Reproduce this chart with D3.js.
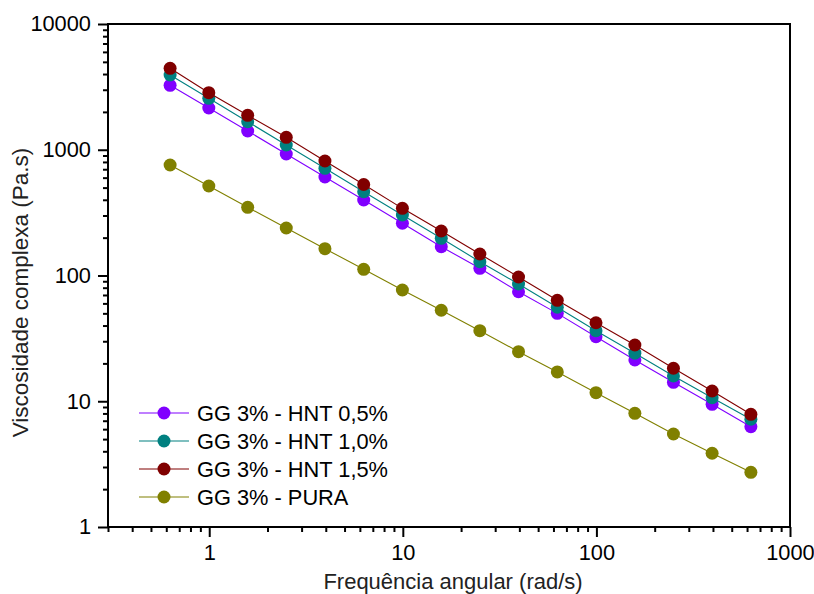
<!DOCTYPE html>
<html>
<head>
<meta charset="utf-8">
<script src="https://cdn.jsdelivr.net/npm/d3@7"></script>
<style>
  html, body { margin: 0; padding: 0; background: #fff; }
  svg { display: block; font-family: "Liberation Sans", Arial, sans-serif; }
</style>
</head>
<body>
<svg id="chart" width="814" height="594"></svg>
<script>
// Angular frequency sweep (rad/s)
const frequency = [0.628, 0.995, 1.58, 2.5, 3.96, 6.28, 9.95, 15.8, 25.0, 39.6, 62.8, 99.5, 158, 250, 396, 628];

// Complex viscosity (Pa.s) for each formulation
const hnt05 = [3254, 2148, 1410, 925, 607, 398.5, 260.2, 169.4, 114.1, 74.3, 50.0, 32.6, 21.3, 14.15, 9.46, 6.28];
const hnt10 = [3930, 2566, 1672, 1091, 712, 464, 302.8, 197.6, 128.8, 85.6, 55.9, 36.4, 24.1, 15.9, 10.67, 7.19];
const hnt15 = [4443, 2843, 1879, 1256, 814, 529, 342, 225.9, 148.3, 97.3, 63.5, 42.1, 28.0, 18.3, 12.06, 7.87];
const pura  = [756, 515, 348.6, 238.6, 163.4, 112.0, 76.7, 52.9, 36.4, 24.8, 17.1, 11.7, 8.02, 5.49, 3.86, 2.72];

const seriesNames  = ["GG 3% - HNT 0,5%", "GG 3% - HNT 1,0%", "GG 3% - HNT 1,5%", "GG 3% - PURA"];
const seriesColors = ["#8000ff", "#008080", "#800000", "#808000"];
const seriesValues = [hnt05, hnt10, hnt15, pura];

const xTickValues = [1, 10, 100, 1000];
const yTickValues = [1, 10, 100, 1000, 10000];
const xTitle = "Frequência angular (rad/s)";
const yTitle = "Viscosidade complexa (Pa.s)";

const svg = d3.select("#chart");
const plot = { left: 108, right: 790, top: 24, bottom: 527 };

const x = d3.scaleLog().domain([0.3, 1000]).range([plot.left, plot.right]);
const y = d3.scaleLog().domain([1, 10000]).range([plot.bottom, plot.top]);

// minor ticks at 2..9 of every decade inside the domain
function minorTicks(scale) {
  const [a, b] = scale.domain();
  const out = [];
  for (let e = Math.floor(Math.log10(a)); e <= Math.ceil(Math.log10(b)); e++) {
    for (let m = 2; m <= 9; m++) {
      const v = m * Math.pow(10, e);
      if (v >= a && v <= b) out.push(v);
    }
  }
  return out;
}

const fontSize = 21.8;

// x axis
const xAxis = svg.append("g").attr("transform", `translate(0,${plot.bottom})`);
xAxis.call(d3.axisBottom(x).tickValues(xTickValues).tickFormat(d3.format("d")).tickSize(10).tickSizeOuter(0))
  .call(g => g.select(".domain").remove());
xAxis.append("g").call(d3.axisBottom(x).tickValues(minorTicks(x)).tickFormat("").tickSize(5).tickSizeOuter(0))
  .call(g => g.select(".domain").remove());
xAxis.selectAll("line").attr("stroke", "#000").attr("stroke-width", 2);
xAxis.selectAll("text").attr("font-size", fontSize).attr("fill", "#000")
  .attr("font-family", "Liberation Sans, Arial, sans-serif").attr("dy", "0.71em").attr("y", 18);

// y axis
const yAxis = svg.append("g").attr("transform", `translate(${plot.left},0)`);
yAxis.call(d3.axisLeft(y).tickValues(yTickValues).tickFormat(d3.format("d")).tickSize(10).tickSizeOuter(0))
  .call(g => g.select(".domain").remove());
yAxis.append("g").call(d3.axisLeft(y).tickValues(minorTicks(y)).tickFormat("").tickSize(5).tickSizeOuter(0))
  .call(g => g.select(".domain").remove());
yAxis.selectAll("line").attr("stroke", "#000").attr("stroke-width", 2);
yAxis.selectAll("text").attr("font-size", fontSize).attr("fill", "#000")
  .attr("font-family", "Liberation Sans, Arial, sans-serif").attr("x", -17);

// frame
svg.append("rect")
  .attr("x", plot.left).attr("y", plot.top)
  .attr("width", plot.right - plot.left).attr("height", plot.bottom - plot.top)
  .attr("fill", "none").attr("stroke", "#000").attr("stroke-width", 2);

// axis titles
svg.append("text")
  .attr("x", (plot.left + plot.right) / 2 + 4).attr("y", 589)
  .attr("text-anchor", "middle").attr("font-size", 22).attr("fill", "#222")
  .text(xTitle);
svg.append("text")
  .attr("transform", `translate(28,${(plot.top + plot.bottom) / 2 + 17}) rotate(-90)`)
  .attr("text-anchor", "middle").attr("font-size", 22.5).attr("fill", "#222")
  .text(yTitle);

// data series
const line = d3.line().x((d, i) => x(frequency[i])).y(d => y(d));
const r = 6.5;
seriesValues.forEach((vals, si) => {
  const g = svg.append("g");
  g.append("path").datum(vals)
    .attr("d", line).attr("fill", "none")
    .attr("stroke", seriesColors[si]).attr("stroke-width", 1.1);
  g.selectAll("circle").data(vals).join("circle")
    .attr("cx", (d, i) => x(frequency[i])).attr("cy", d => y(d))
    .attr("r", r).attr("fill", seriesColors[si]);
});

// legend
const legend = svg.append("g");
const legendTop = 413, legendStep = 28;
seriesNames.forEach((name, i) => {
  const cy = legendTop + i * legendStep;
  legend.append("line").attr("x1", 139).attr("x2", 189).attr("y1", cy).attr("y2", cy)
    .attr("stroke", seriesColors[i]).attr("stroke-width", 1.1);
  legend.append("circle").attr("cx", 164).attr("cy", cy).attr("r", r).attr("fill", seriesColors[i]);
  legend.append("text").attr("x", 197).attr("y", cy).attr("dy", "0.36em")
    .attr("font-size", fontSize).attr("fill", "#000").text(name);
});
</script>
</body>
</html>
